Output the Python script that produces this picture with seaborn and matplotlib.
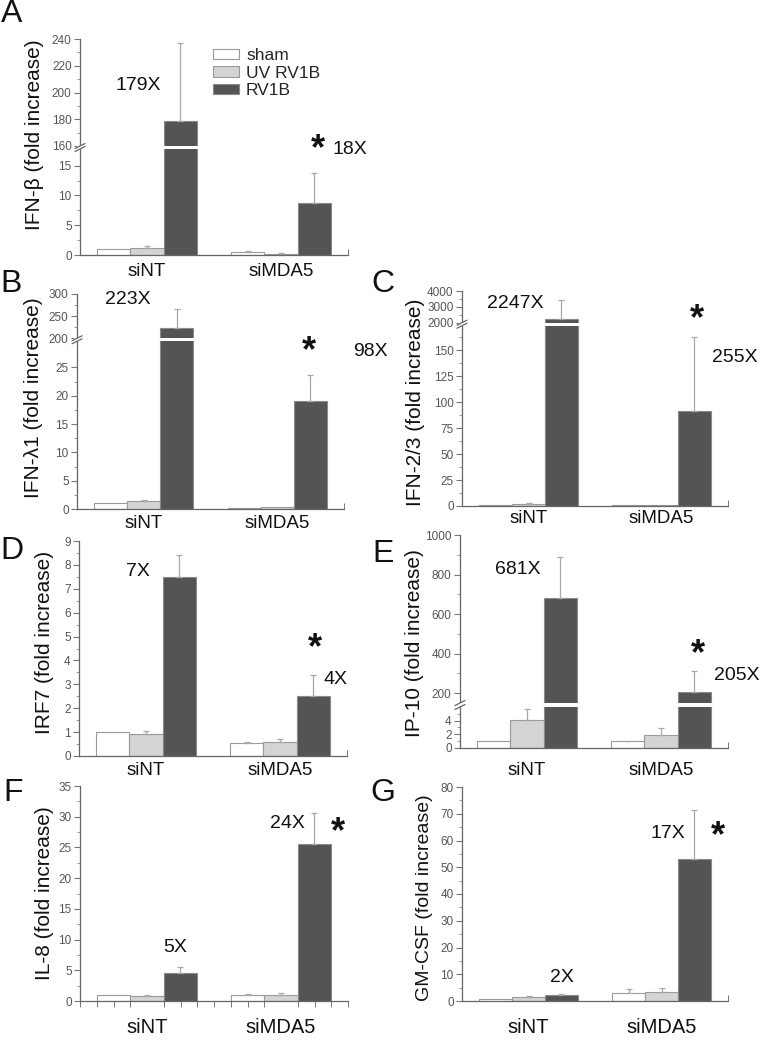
import numpy as np
import pandas as pd
import matplotlib
matplotlib.use("Agg")
import matplotlib.pyplot as plt
import seaborn as sns
from matplotlib.patches import Patch, Rectangle
from matplotlib.lines import Line2D
from matplotlib.ticker import FixedLocator, FuncFormatter

sns.set_theme(style="ticks")
plt.rcParams["font.family"] = ["Liberation Sans", "DejaVu Sans"]

W, H = 761, 1050

groups = ["siNT", "siMDA5"]
treatments = ["sham", "UV RV1B", "RV1B"]
bar_face = ["#ffffff", "#d4d4d4", "#545454"]
bar_edge = ["#9a9a9a", "#9a9a9a", "#8a8a8a"]

# order: siNT sham, siNT UV RV1B, siNT RV1B, siMDA5 sham, siMDA5 UV RV1B, siMDA5 RV1B
# *_tip = top of the error bar
ifnb_mean = [1.0, 1.1, 179, 0.5, 0.2, 8.7]
ifnb_tip = [1.0, 1.5, 237, 0.7, 0.3, 13.8]
ifnl1_mean = [1.0, 1.4, 223, 0.2, 0.3, 19.0]
ifnl1_tip = [1.0, 1.6, 266, 0.2, 0.3, 23.6]
ifnl23_mean = [1.0, 2.0, 2247, 0.5, 0.5, 91.5]
ifnl23_tip = [1.0, 3.0, 3460, 0.5, 0.5, 163]
irf7_mean = [1.0, 0.93, 7.5, 0.55, 0.58, 2.5]
irf7_tip = [1.0, 1.05, 8.4, 0.6, 0.72, 3.4]
ip10_mean = [1.0, 4.1, 681, 0.95, 1.9, 205]
ip10_tip = [1.0, 5.7, 890, 1.0, 2.9, 313]
il8_mean = [1.0, 0.8, 4.6, 1.0, 1.0, 25.5]
il8_tip = [1.0, 0.9, 5.5, 1.1, 1.3, 30.6]
gmcsf_mean = [0.9, 1.5, 2.1, 3.0, 3.2, 53]
gmcsf_tip = [0.9, 2.0, 2.8, 4.3, 4.9, 71.5]

fig = plt.figure(figsize=(W / 100, H / 100), dpi=100)


def broken_scale(a, b, top, lo_px, gap_px, up_px):
    s0 = lo_px / a
    s1 = up_px / (top - b)

    def fwd(v):
        v = np.asarray(v, dtype=float)
        return np.where(v <= a, v * s0,
                        np.where(v < b, lo_px + (v - a) / (b - a) * gap_px,
                                 lo_px + gap_px + (v - b) * s1))

    def inv(u):
        u = np.asarray(u, dtype=float)
        return np.where(u <= lo_px, u / s0,
                        np.where(u < lo_px + gap_px, a + (u - lo_px) / gap_px * (b - a),
                                 b + (u - lo_px - gap_px) / s1))
    return fwd, inv


def panel(rect, ylabel, mean, tip, ymax, major, minor, brk=None, lab=(0, 0),
          lab_size=15, cat_pad=5, cat_size=13.5, xminor=(1.5,), xdir="in"):
    l, t, r, b = rect
    axw, axh = r - l, b - t
    ax = fig.add_axes([l / W, 1 - b / H, axw / W, axh / H])
    df = pd.DataFrame({"group": np.repeat(groups, 3),
                       "treatment": treatments * 2,
                       "value": mean})
    sns.barplot(data=df, x="group", y="value", hue="treatment", order=groups,
                hue_order=treatments, palette=bar_face, saturation=1, width=0.74,
                errorbar=None, legend=False, ax=ax, linewidth=0.8)
    bar_sets = list(ax.containers)
    for h, cont in enumerate(bar_sets):
        for g, bar in enumerate(cont):
            bar.set_edgecolor(bar_edge[h])
            m, e = mean[g * 3 + h], tip[g * 3 + h]
            if e > m:
                x = bar.get_x() + bar.get_width() / 2
                ax.errorbar(x, m, yerr=[[0], [e - m]], fmt="none", ecolor="#a8a8a8",
                            elinewidth=0.9, capsize=2, capthick=0.9, zorder=2)
    if brk:
        a, bb, lo_px, gap_px, up_px = brk
        fwd, inv = broken_scale(a, bb, ymax, lo_px, gap_px, up_px)
        ax.set_yscale("function", functions=(fwd, inv))
    ax.set_ylim(0, ymax)
    ax.set_xlim(-0.5, 1.5)
    ax.set_xlabel("")
    ax.set_ylabel(ylabel, fontsize=lab_size, color="#111")
    ax.yaxis.set_label_coords(lab[0] / W, 1 - lab[1] / H, transform=fig.transFigure)
    ax.yaxis.set_major_locator(FixedLocator(major))
    ax.yaxis.set_minor_locator(FixedLocator(minor))
    ax.yaxis.set_major_formatter(FuncFormatter(lambda v, p: f"{v:g}"))
    ax.xaxis.set_minor_locator(FixedLocator(xminor))
    sns.despine(ax=ax)
    for s in ("left", "bottom"):
        ax.spines[s].set_color("#666")
        ax.spines[s].set_linewidth(0.9)
    ax.tick_params(axis="y", which="major", length=4, width=0.8, color="#777",
                   labelsize=8.5, labelcolor="#555", pad=2)
    ax.tick_params(axis="y", which="minor", length=2, width=0.6, color="#888")
    ax.tick_params(axis="x", which="major", length=0, labelsize=cat_size,
                   labelcolor="#111", pad=cat_pad)
    ax.tick_params(axis="x", which="minor", length=4, width=0.7, color="#777",
                   direction=xdir)
    if brk:
        ax.axhspan(a, bb, xmin=0.004, xmax=1, color="white", lw=0, zorder=4)
        y0, y1 = lo_px / axh, (lo_px + gap_px) / axh
        ax.add_patch(Rectangle((-0.01, y0), 0.02, y1 - y0, transform=ax.transAxes,
                               facecolor="white", lw=0, clip_on=False, zorder=5))
        dx, dy = 5 / axw, 2.5 / axh
        for y in (y0, y1):
            ax.add_line(Line2D([-dx, dx], [y - dy, y + dy], transform=ax.transAxes,
                               color="#666", lw=0.9, clip_on=False, zorder=6))
    return ax


def note(x, y, s, size=14):
    fig.text(x / W, 1 - y / H, s, ha="center", va="center", fontsize=size, color="#111")


def star(x, y):
    # the asterisk glyph sits high in its box, so push the anchor down a little
    fig.text(x / W, 1 - (y + 7) / H, "*", ha="center", va="center", fontsize=26,
             fontweight="bold", color="#111")


# A: IFN-beta
axA = panel((80, 39, 348, 255), "IFN-β (fold increase)", ifnb_mean, ifnb_tip, 240,
            [0, 5, 10, 15, 160, 180, 200, 220, 240],
            [2.5, 7.5, 12.5, 170, 190, 210, 230],
            brk=(17.8, 160, 106, 3, 107), lab=(44, 135), cat_pad=6)
axA.legend([Patch(facecolor=bar_face[i], edgecolor=bar_edge[i], lw=0.8) for i in range(3)],
           treatments, loc="upper left", bbox_to_anchor=(213 / W, 1 - 48 / H),
           bbox_transform=fig.transFigure, frameon=False, fontsize=12.5,
           handlelength=1.5, handleheight=0.55, handletextpad=0.4, labelspacing=0.15,
           borderpad=0, borderaxespad=0)
note(138, 86, "179X")
star(318, 143)
note(350, 149, "18X")

# B: IFN-lambda1
panel((77, 294, 344, 509), "IFN-λ1 (fold increase)", ifnl1_mean, ifnl1_tip, 300,
      [0, 5, 10, 15, 20, 25, 200, 250, 300],
      [2.5, 7.5, 12.5, 17.5, 22.5, 225, 275],
      brk=(29.6, 200, 167.7, 3, 44.3), lab=(43, 398), cat_pad=4)
note(128, 300, "223X")
star(309, 345)
note(370, 352, "98X")

# C: IFN-lambda2/3
panel((462, 291, 728, 506), "IFN-2/3 (fold increase)", ifnl23_mean, ifnl23_tip, 4000,
      [0, 25, 50, 75, 100, 125, 150, 2000, 3000, 4000],
      [12.5, 37.5, 62.5, 87.5, 112.5, 137.5, 162.5, 2500, 3500],
      brk=(173.4, 2000, 180.3, 3, 32), lab=(425, 402), cat_pad=3)
note(515, 303, "2247X")
star(697, 313)
note(735, 358, "255X")

# D: IRF7
panel((79, 541, 347, 756), "IRF7 (fold increase)", irf7_mean, irf7_tip, 9,
      list(range(10)), [i + 0.5 for i in range(9)], lab=(54, 642), cat_pad=4)
note(138, 572, "7X")
star(315, 642)
note(335, 679, "4X")

# E: IP-10
panel((460, 535, 728, 748), "IP-10 (fold increase)", ip10_mean, ip10_tip, 1000,
      [0, 2, 4, 200, 400, 600, 800, 1000],
      [1, 3, 5, 300, 500, 700, 900],
      brk=(6, 150, 41, 4, 167.7), lab=(424, 643), cat_pad=10)
note(518, 570, "681X")
star(698, 648)
note(737, 675, "205X")

# F: IL-8
panel((80, 786, 348, 1001), "IL-8 (fold increase)", il8_mean, il8_tip, 35,
      [0, 5, 10, 15, 20, 25, 30, 35], [2.5 + 5 * i for i in range(7)],
      lab=(54, 893), cat_pad=12, cat_size=14.5,
      xminor=[-0.5 + 0.125 * i for i in range(17)], xdir="out")
note(175, 947, "5X")
note(287, 823, "24X")
star(338, 826)

# G: GM-CSF
panel((462, 787, 728, 1001), "GM-CSF (fold increase)", gmcsf_mean, gmcsf_tip, 80,
      list(range(0, 90, 10)), [5 + 10 * i for i in range(8)],
      lab=(433, 898), lab_size=14, cat_pad=12, cat_size=14.5)
note(562, 977, "2X")
note(668, 833, "17X")
star(718, 830)

for s, x, y in [("A", 12, 14), ("B", 11, 284), ("C", 383, 284), ("D", 12, 551),
                ("E", 383, 554), ("F", 13, 793), ("G", 383, 793)]:
    fig.text(x / W, 1 - y / H, s, ha="center", va="center", fontsize=23, color="#111")

fig.savefig("out.png", dpi=100)
